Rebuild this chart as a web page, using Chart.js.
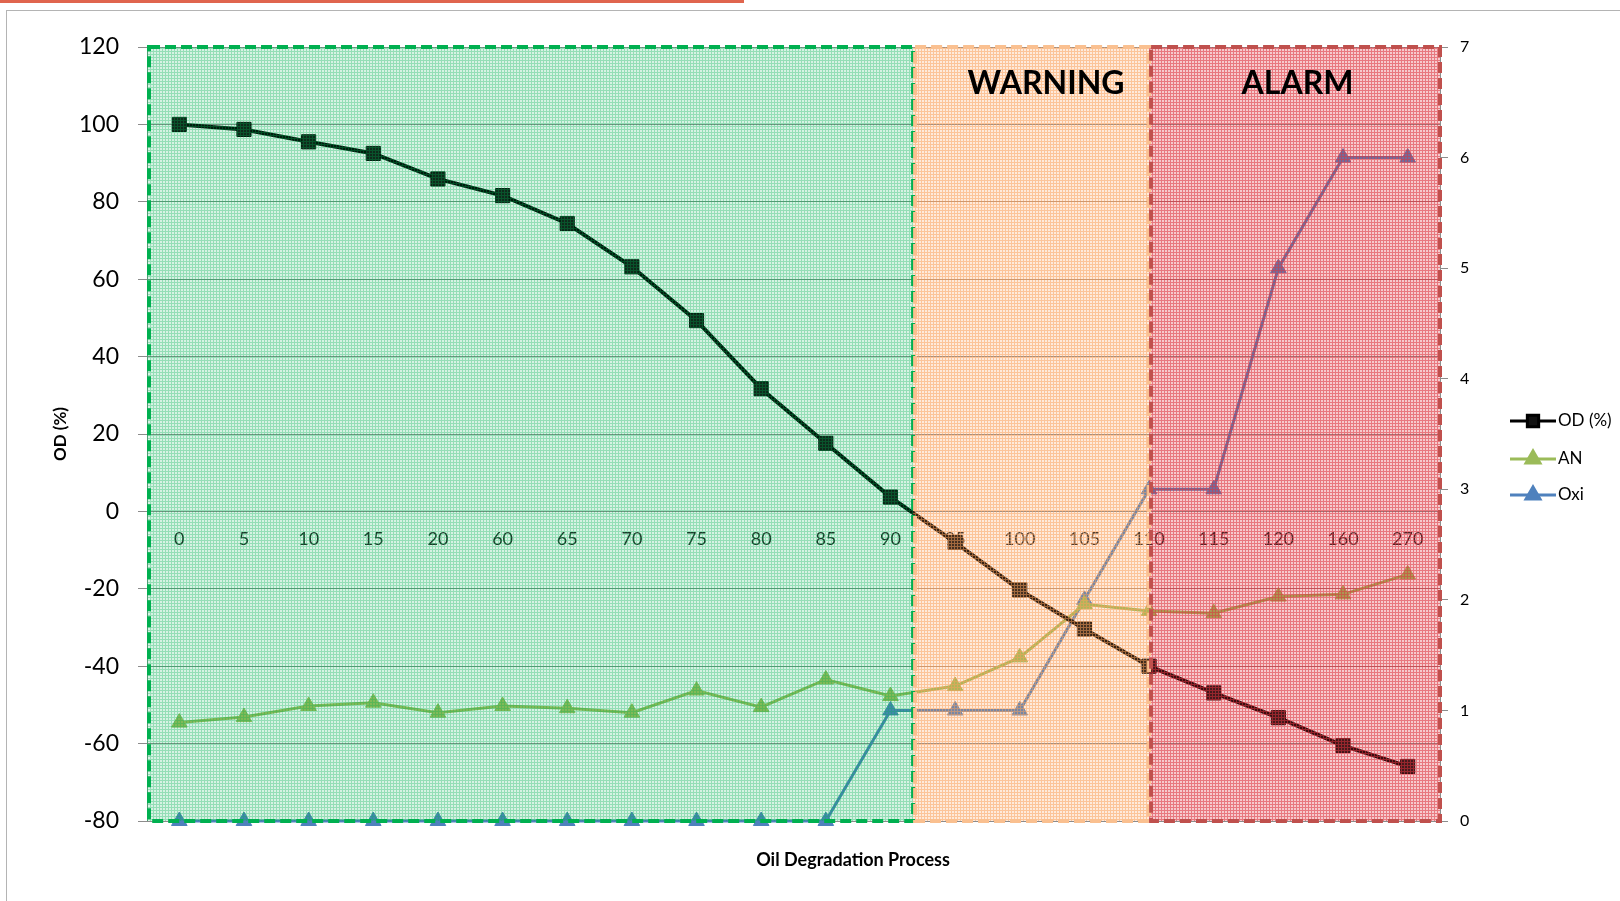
<!DOCTYPE html>
<html>
<head>
<meta charset="utf-8">
<script src="https://cdn.jsdelivr.net/npm/chart.js@4.4.1/dist/chart.umd.min.js"></script>
<style>
  html, body { margin: 0; padding: 0; background: #fff; }
  #wrap { position: relative; width: 1620px; height: 901px; overflow: hidden; }
  #topline { position: absolute; left: 0; top: 0; width: 744px; height: 3px; background: #e0654e; }
  #frame { position: absolute; left: 6px; top: 10px; width: 1700px; height: 1000px; border: 1px solid #b4b4b4; }
  canvas { position: absolute; left: 0; top: 0; }
</style>
</head>
<body>
<div id="wrap">
  <div id="topline"></div>
  <div id="frame"></div>
  <canvas id="chart" width="1620" height="901"></canvas>
</div>
<script>
// process stages along the x axis
const stages = ["0", "5", "10", "15", "20", "60", "65", "70", "75", "80",
                "85", "90", "95", "100", "105", "110", "115", "120", "160", "270"];

// OD (%) on the left axis
const odValues = [100, 98.7, 95.5, 92.5, 85.9, 81.6, 74.4, 63.2, 49.3, 31.7,
                  17.6, 3.7, -8, -20.3, -30.4, -40, -46.9, -53.3, -60.5, -65.9];

// AN and Oxi on the right axis
const anValues = [0.89, 0.94, 1.04, 1.07, 0.98, 1.04, 1.02, 0.98, 1.18, 1.03,
                  1.28, 1.13, 1.22, 1.48, 1.96, 1.9, 1.88, 2.03, 2.05, 2.23];
const oxiValues = [0, 0, 0, 0, 0, 0, 0, 0, 0, 0,
                   0, 1, 1, 1, 2, 3, 3, 5, 6, 6];

const zoneLabels = ["WARNING", "ALARM"];
const seriesNames = ["OD (%)", "AN", "Oxi"];

Chart.defaults.font.family = "Lato, 'Open Sans', sans-serif";
Chart.defaults.color = "#000";

function gridPattern(ctx, bg, line) {
  const c = document.createElement("canvas");
  c.width = 3; c.height = 3;
  const g = c.getContext("2d");
  g.fillStyle = line;
  g.fillRect(0, 0, 3, 1);
  g.fillRect(0, 1, 1, 2);
  g.fillStyle = bg;
  g.fillRect(1, 1, 2, 2);
  return ctx.createPattern(c, "repeat");
}

// shaded state zones drawn over the series, with dashed outlines
const zonesPlugin = {
  id: "zones",
  afterDatasetsDraw(chart) {
    const { ctx, chartArea: a, scales: { x } } = chart;
    const greenEnd = x.getPixelForValue(11.35);
    const warnEnd = x.getPixelForValue(15);
    const zones = [
      { x0: a.left, x1: greenEnd, bg: "rgba(0,176,80,0.16)", line: "rgba(0,176,80,0.42)", edge: "#00b050" },
      { x0: greenEnd, x1: warnEnd, bg: "rgba(250,160,90,0.22)", line: "rgba(250,160,90,0.62)", edge: "#fac090" },
      { x0: warnEnd, x1: a.right, bg: "rgba(220,50,60,0.26)", line: "rgba(220,50,60,0.66)", edge: "#c0504d" }
    ];
    ctx.save();
    zones.forEach(z => {
      ctx.fillStyle = gridPattern(ctx, z.bg, z.line);
      ctx.fillRect(z.x0, a.top, z.x1 - z.x0, a.bottom - a.top);
    });
    ctx.lineWidth = 4;
    ctx.setLineDash([11, 5]);
    zones.forEach(z => {
      ctx.strokeStyle = z.edge;
      ctx.strokeRect(z.x0 + 2, a.top, z.x1 - z.x0 - 2, a.bottom - a.top);
    });
    ctx.setLineDash([]);

    ctx.fillStyle = "#000";
    ctx.font = "bold 32px Lato, 'Open Sans', sans-serif";
    ctx.textAlign = "center";
    ctx.textBaseline = "middle";
    ctx.fillText(zoneLabels[0], (greenEnd + warnEnd) / 2 + 15, a.top + 37);
    ctx.fillText(zoneLabels[1], (warnEnd + a.right) / 2 + 3, a.top + 37);

    ctx.font = "bold 18px Lato, 'Open Sans', sans-serif";
    ctx.fillText("Oil Degradation Process", 853, 860);
    ctx.restore();
  }
};

// legend with line-and-marker samples on the right
const legendPlugin = {
  id: "sideLegend",
  afterDraw(chart) {
    const { ctx } = chart;
    const rows = [421, 459, 495];
    ctx.save();
    chart.data.datasets.forEach((ds, i) => {
      const y = rows[i];
      ctx.strokeStyle = ds.borderColor;
      ctx.lineWidth = 3;
      ctx.beginPath();
      ctx.moveTo(1510, y);
      ctx.lineTo(1556, y);
      ctx.stroke();
      ctx.fillStyle = ds.pointBackgroundColor;
      ctx.strokeStyle = ds.pointBorderColor;
      Chart.helpers.drawPoint(ctx, {
        pointStyle: ds.pointStyle, radius: 8, rotation: 0, borderWidth: 1
      }, 1533, y);
      ctx.fillStyle = "#000";
      ctx.font = "17px Lato, 'Open Sans', sans-serif";
      ctx.textAlign = "left";
      ctx.textBaseline = "middle";
      ctx.fillText(ds.label, 1558, y);
    });
    ctx.restore();
  }
};

new Chart(document.getElementById("chart"), {
  type: "line",
  data: {
    labels: stages,
    datasets: [
      {
        label: seriesNames[0],
        data: odValues,
        yAxisID: "y",
        borderColor: "#000",
        borderWidth: 4,
        pointStyle: "rect",
        pointRadius: 10,
        pointBackgroundColor: "#111",
        pointBorderColor: "#000",
        pointBorderWidth: 1,
        tension: 0,
        clip: false
      },
      {
        label: seriesNames[1],
        data: anValues,
        yAxisID: "y1",
        borderColor: "#9bbb59",
        borderWidth: 3,
        pointStyle: "triangle",
        pointRadius: 9,
        pointBackgroundColor: "#9bbb59",
        pointBorderColor: "#9bbb59",
        pointBorderWidth: 1,
        tension: 0,
        clip: false
      },
      {
        label: seriesNames[2],
        data: oxiValues,
        yAxisID: "y1",
        borderColor: "#4f81bd",
        borderWidth: 3,
        pointStyle: "triangle",
        pointRadius: 9,
        pointBackgroundColor: "#4f81bd",
        pointBorderColor: "#4f81bd",
        pointBorderWidth: 1,
        tension: 0,
        clip: false
      }
    ]
  },
  options: {
    responsive: false,
    animation: false,
    layout: { padding: { left: 50, top: 47, right: 0, bottom: 80 } },
    plugins: { legend: { display: false }, tooltip: { enabled: false } },
    scales: {
      x: {
        type: "category",
        position: { y: 0 },
        offset: true,
        grid: { display: false },
        border: { color: "#8c8c8c", width: 1 },
        ticks: { padding: 9, color: "#222", font: { size: 18 }, autoSkip: false, maxRotation: 0 }
      },
      y: {
        position: "left",
        min: -80,
        max: 120,
        ticks: { stepSize: 20, padding: 19, color: "#000", font: { size: 23 } },
        grid: { color: "#8c8c8c", tickLength: 9, tickColor: "#8c8c8c" },
        border: { color: "#8c8c8c" },
        title: { display: true, text: "OD (%)", color: "#000", padding: { top: 0, bottom: 4 }, font: { size: 17, weight: "bold" } },
        afterFit(scale) { scale.width = 97; }
      },
      y1: {
        position: "right",
        min: 0,
        max: 7,
        ticks: { stepSize: 1, padding: 12, color: "#000", font: { size: 16 } },
        grid: { drawOnChartArea: false, tickLength: 8, tickColor: "#8c8c8c" },
        border: { color: "#8c8c8c" },
        afterFit(scale) { scale.width = 180; }
      }
    }
  },
  plugins: [zonesPlugin, legendPlugin]
});
</script>
</body>
</html>
